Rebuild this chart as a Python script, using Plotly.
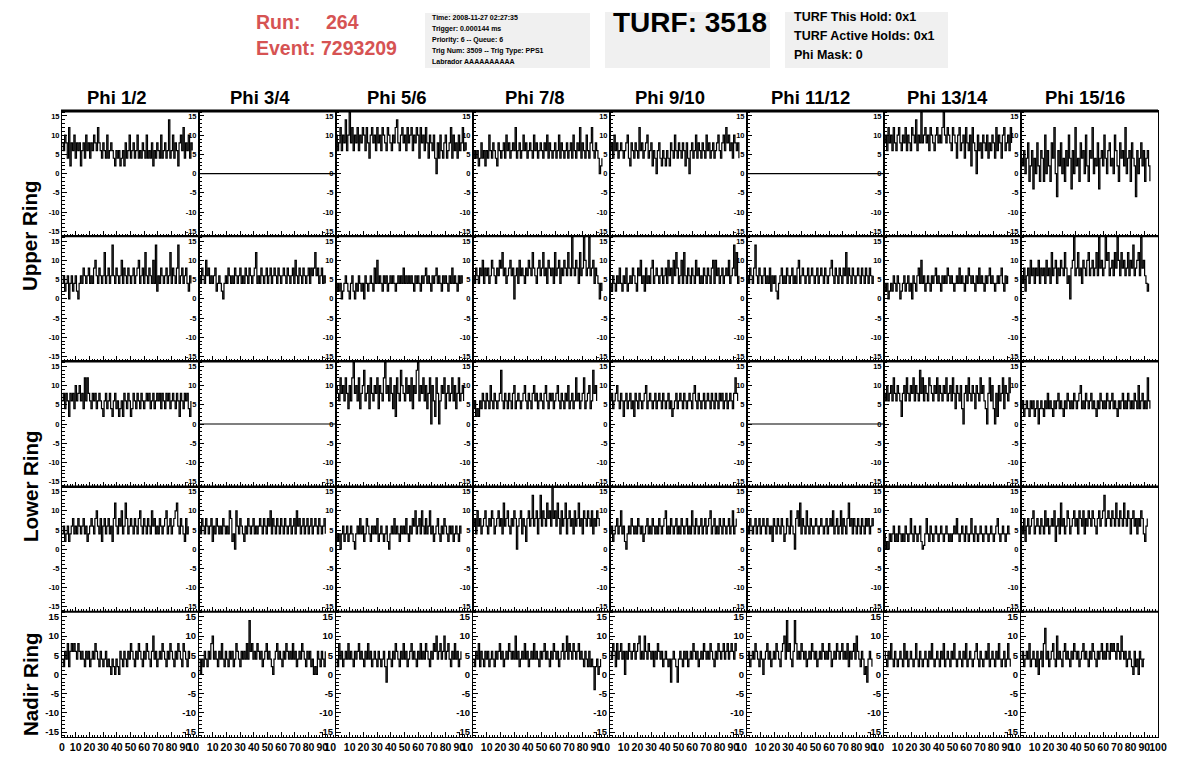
import plotly.graph_objects as go

# ---------------- data (ADC counts, sampled every DT ns) ----------------
DT = 0.96
phi_titles = ["Phi 1/2", "Phi 3/4", "Phi 5/6", "Phi 7/8", "Phi 9/10", "Phi 11/12", "Phi 13/14", "Phi 15/16"]
ring_labels = ["Upper Ring", "Lower Ring", "Nadir Ring"]
x_tick_vals = [0, 10, 20, 30, 40, 50, 60, 70, 80, 90, 100]
y_tick_vals = [-15, -10, -5, 0, 5, 10, 15]
y_tick_text = ["-15", "-10", "-5", "0", "5", "10", "15"]

# Row 1 (Upper ring, first pol)
r1c1 = [8,6,10,8,4,12,2,8,6,10,4,8,6,8,2,6,8,4,10,6,8,4,8,6,10,8,6,12,8,6,4,8,6,4,10,4,6,8,6,4,2,6,4,6,2,4,6,2,8,4,6,10,4,6,8,4,6,10,4,6,4,8,6,4,10,4,6,4,8,2,6,4,8,6,4,10,4,6,8,4,6,14,4,6,10,4,8,6,2,8,10,6,12,4,8,6,10,4,8,6]
r1c2 = [0] * 105
r1c3 = [10,6,8,12,6,10,8,14,6,10,16,8,12,6,10,8,12,6,10,8,12,10,6,12,8,4,10,12,8,10,6,12,8,10,6,12,10,8,6,12,10,8,6,10,8,12,14,8,6,10,12,8,10,6,12,8,10,12,6,10,8,12,10,4,12,8,10,6,12,8,4,10,8,6,10,4,0,8,4,10,6,4,8,10,4,6,8,12,4,10,6,8,4,10,6,8,12,6,8,6]
r1c4 = [4,6,4,6,2,4,8,4,6,2,6,4,10,6,4,8,6,4,2,8,6,4,6,8,4,10,6,8,4,6,8,6,12,4,6,8,4,6,10,6,8,4,6,8,6,4,10,6,8,4,6,8,6,4,8,6,10,4,8,6,4,6,8,4,6,10,4,8,6,4,6,8,4,6,8,4,10,6,4,8,6,12,4,8,6,4,10,6,4,8,12,6,4,8,6,4,0,2,4]
r1c5 = [6,8,4,10,6,8,4,6,8,6,4,6,8,10,4,2,8,6,4,8,6,4,12,6,8,4,6,8,10,4,6,8,2,6,4,0,6,8,4,2,6,4,2,6,4,2,8,6,4,10,6,4,8,6,4,8,6,2,8,4,0,6,8,4,6,10,4,8,6,4,8,6,4,10,6,8,4,6,8,4,6,8,10,6,4,8,10,6,12,8,10,6,8,4,10,8,6,8,4]
r1c6 = [0] * 105
r1c7 = [8,10,6,12,8,10,6,12,8,6,10,12,8,6,10,8,12,6,10,8,6,12,10,8,14,6,10,8,16,8,10,12,8,10,6,12,10,8,6,10,12,8,10,8,12,16,10,8,12,10,8,6,12,10,8,4,10,12,6,8,10,4,12,8,6,10,2,12,8,6,0,10,6,8,4,10,8,6,10,4,8,6,10,8,4,12,6,10,8,4,10,12,6,8,10,6,12,8]
r1c8 = [4,2,6,0,4,8,-2,2,6,-4,4,0,8,2,-2,6,4,-2,10,0,6,2,-2,8,4,12,0,-6,6,2,8,0,4,-2,6,2,10,4,-4,6,0,12,2,4,-2,8,4,6,0,10,2,-2,6,4,12,0,4,2,8,-4,4,6,2,10,4,0,6,8,2,4,0,10,6,2,-2,8,4,6,2,12,0,4,6,-2,8,4,2,-6,6,0,4,8,2,6,-2,4,6,2,-2]

# Row 2 (Upper ring, second pol)
r2c1 = [4,6,2,4,6,0,4,6,2,4,6,2,0,4,6,4,8,6,4,6,8,4,6,4,8,10,6,4,8,6,4,6,12,4,6,8,4,6,14,6,4,8,6,4,6,10,4,8,6,4,8,6,4,6,8,4,6,8,10,4,6,8,4,12,6,4,8,6,4,10,4,14,2,6,4,8,6,4,6,8,4,6,12,4,8,6,4,8,14,4,6,8,4,6,8,4,2,6,4]
r2c2 = [6,4,8,6,4,10,6,8,4,6,4,6,8,2,4,6,4,2,0,4,6,4,8,6,4,6,4,8,6,4,6,8,4,6,4,8,6,4,8,6,4,6,8,12,4,6,4,8,6,4,6,8,4,6,8,4,6,8,6,4,8,6,4,6,8,6,4,8,6,4,6,8,4,10,6,4,8,6,4,8,6,4,6,8,4,8,6,8,12,6,8,4,6,8,4,6,4]
r2c3 = [2,4,2,4,0,2,4,6,4,2,0,4,6,2,0,4,2,6,4,2,4,0,6,4,2,4,6,4,2,8,4,10,4,6,4,2,6,4,6,2,4,6,4,6,4,2,4,6,4,6,4,8,4,6,4,6,4,6,4,2,6,4,6,4,2,6,4,6,8,4,6,4,2,6,4,6,8,4,6,4,2,6,4,6,4,2,6,4,8,4,6,4,2,6,4,6,4]
r2c4 = [6,4,8,6,4,8,6,10,4,8,6,8,4,6,10,8,6,4,8,6,10,8,12,6,8,4,6,8,10,6,8,0,6,8,4,10,6,8,6,4,8,6,10,8,6,12,8,6,4,8,10,6,8,12,6,8,4,10,8,6,8,4,12,6,8,10,4,8,6,10,8,6,12,8,6,16,8,6,10,8,4,12,6,8,16,10,6,8,16,6,8,10,4,8,6,4,0,4,2]
r2c5 = [4,2,6,4,2,6,4,8,4,2,6,4,8,2,4,6,4,8,6,4,2,8,6,10,4,6,2,8,4,6,4,8,10,4,6,8,6,4,6,8,4,6,8,4,10,6,8,4,10,6,12,8,4,6,10,4,12,6,4,8,6,4,8,6,4,10,6,8,4,6,4,8,6,4,8,6,4,8,10,4,10,6,8,4,6,8,4,6,8,6,10,4,6,8,14,6,12,4,6]
r2c6 = [6,4,8,6,4,8,14,6,4,8,6,4,6,8,4,6,4,8,2,6,4,6,2,0,4,6,8,4,6,4,8,6,4,6,8,4,6,4,8,10,4,6,8,6,4,6,8,4,6,8,6,4,6,8,4,6,8,6,4,8,6,4,6,8,10,6,4,8,6,4,8,6,4,8,6,12,4,8,6,4,8,6,4,6,8,6,4,8,6,4,8,6,4,8,6,4,6]
r2c7 = [4,2,4,0,2,4,2,6,4,2,6,4,0,2,4,6,2,4,6,2,4,0,6,4,2,6,8,4,10,4,6,2,4,6,4,2,6,4,6,8,4,6,4,2,6,4,6,4,8,6,4,6,4,2,4,6,4,8,4,6,4,2,6,4,8,6,4,6,4,2,6,4,8,4,6,4,2,6,4,6,8,4,6,4,2,4,6,4,6,8,4,2,6,4,6]
r2c8 = [6,4,8,2,6,8,4,10,6,8,4,8,6,10,4,8,6,8,4,10,6,8,4,12,6,8,10,4,8,6,10,8,6,12,8,4,6,0,8,10,16,6,8,12,6,8,4,10,8,6,10,12,6,8,10,6,8,12,6,16,8,10,6,8,16,10,12,6,8,10,6,12,8,16,10,6,12,8,10,6,8,12,6,10,8,14,6,8,10,12,6,16,8,10,6,4,2,4]

# Row 3 (Lower ring, first pol)
r3c1 = [6,8,4,8,6,2,8,6,8,4,10,6,8,10,6,8,4,12,6,12,8,6,4,8,6,8,4,6,8,6,4,2,6,8,4,6,8,4,2,6,8,4,6,2,4,6,2,8,6,4,8,6,2,4,8,6,4,8,6,4,8,6,4,6,8,6,8,4,6,8,4,6,8,6,8,4,8,6,4,8,6,8,4,6,8,6,4,8,6,2,8,6,4,8,6,8,4,2,6]
r3c2 = [0] * 105
r3c3 = [10,8,6,12,8,10,6,12,8,4,10,6,12,16,8,10,6,12,4,8,10,14,6,8,10,4,12,8,6,10,8,12,4,10,8,6,12,16,8,10,6,12,8,4,10,2,12,8,6,14,10,8,6,12,8,10,6,12,4,10,8,14,16,6,10,8,12,6,10,4,8,12,0,10,6,2,12,8,0,6,10,8,12,4,8,10,6,8,12,6,10,4,8,12,6,8,10,6]
r3c4 = [4,6,2,4,2,6,4,8,6,4,8,6,4,10,6,4,8,6,4,6,8,14,6,4,8,6,4,8,6,4,8,10,4,6,8,6,4,6,8,10,6,4,8,6,4,8,10,6,8,4,6,8,6,4,8,10,6,4,8,6,8,4,6,8,10,6,4,8,6,4,8,6,10,4,6,8,4,6,12,6,8,4,6,8,12,4,6,8,10,4,6,14,8,10,6]
r3c5 = [6,8,4,6,8,10,6,4,8,6,2,6,8,4,6,8,4,6,2,8,6,4,8,6,4,6,8,10,4,6,8,6,4,6,8,4,6,8,6,4,8,6,4,6,8,4,6,2,4,6,8,4,6,8,6,4,8,6,4,6,8,6,4,8,10,6,4,8,6,4,6,8,4,6,8,6,4,8,6,4,8,6,4,8,6,8,4,6,8,4,6,8,6,4,8,12,8,6]
r3c6 = [0] * 105
r3c7 = [8,6,10,6,8,10,6,12,8,6,10,8,6,2,8,10,6,12,8,6,10,8,12,6,10,8,6,14,8,12,6,10,8,6,12,10,8,6,10,8,12,6,10,8,6,10,8,12,6,8,10,6,12,8,4,10,8,6,10,4,0,8,10,6,12,8,6,10,8,4,10,8,6,12,8,10,6,4,0,8,12,6,10,4,0,8,2,10,6,8,12,4,10,8,6,12,8]
r3c8 = [4,6,2,4,6,4,2,6,4,6,2,4,6,0,4,6,4,2,6,4,8,4,6,4,2,6,4,6,8,4,6,4,2,6,4,8,6,4,6,4,8,6,4,6,8,10,4,6,4,8,6,4,6,8,4,6,4,2,6,4,8,6,4,6,4,8,6,4,6,8,4,6,4,2,6,4,6,8,4,6,4,8,6,4,6,4,8,6,4,10,4,6,8,4,6,4,12,6,4]

# Row 4 (Lower ring, second pol)
r4c1 = [4,6,2,4,6,2,4,6,8,4,6,4,8,6,4,6,8,4,6,2,4,6,8,6,4,8,10,6,4,8,2,6,8,4,6,8,4,6,2,8,12,6,4,8,6,10,4,6,12,8,4,6,8,6,4,8,6,4,8,10,6,4,8,6,4,8,6,4,10,6,8,4,6,4,8,6,4,6,8,10,4,6,8,4,6,8,10,12,6,4,8,6,4,2,8,4,6]
r4c2 = [6,4,8,6,4,8,6,4,6,8,2,6,4,8,6,4,6,4,8,6,4,6,4,10,8,2,4,0,10,6,4,8,6,4,2,6,4,8,6,4,6,8,4,6,4,6,8,6,4,8,6,4,8,6,10,4,8,6,4,8,6,4,8,6,4,8,6,4,6,8,4,6,8,4,10,6,8,4,6,8,4,6,8,4,6,8,4,6,8,6,4,8,6,4,6,8,4]
r4c3 = [4,2,4,0,4,6,2,4,6,2,4,6,4,2,0,4,6,4,8,4,6,2,4,8,6,4,2,6,4,6,4,8,2,4,6,4,2,4,6,2,0,4,6,4,8,4,6,4,2,6,4,6,4,8,4,2,6,4,8,6,10,4,6,8,4,10,6,4,8,4,6,10,4,6,2,4,6,8,4,2,6,4,8,6,4,2,6,4,6,2,4,6,4,2,6,4]
r4c4 = [6,8,4,10,6,8,4,6,8,10,6,4,8,6,10,8,4,6,8,10,6,8,4,12,6,8,10,6,4,8,6,10,8,0,6,8,10,4,8,6,2,8,10,6,8,14,6,8,10,4,8,14,6,10,8,6,12,8,10,6,16,8,10,6,12,8,4,10,6,8,12,4,8,10,6,8,4,10,6,8,12,6,8,4,10,8,6,10,8,6,10,4,8,6,10,8,6]
r4c5 = [4,6,2,4,6,8,4,6,10,4,6,2,0,4,6,4,8,6,4,6,4,8,6,4,6,2,4,6,8,4,6,4,8,6,4,6,4,8,6,4,6,8,10,4,6,4,8,6,4,6,8,4,6,4,8,6,4,6,8,4,6,4,10,6,4,8,6,4,6,8,4,6,8,4,6,8,10,4,6,8,4,6,4,8,6,4,8,6,4,6,8,4,6,10,4,6,8]
r4c6 = [6,4,8,6,4,6,8,4,6,8,4,6,8,6,4,8,6,4,6,2,8,6,4,8,6,4,8,6,2,4,8,6,4,10,6,4,0,8,10,6,12,4,8,6,4,10,6,4,8,6,4,6,8,6,4,6,8,6,4,6,8,4,6,8,6,10,4,6,8,4,6,10,4,8,6,4,8,12,6,8,4,8,6,4,8,6,4,8,6,4,8,6,8,4,6,8,6]
r4c7 = [4,0,2,0,4,2,4,6,2,4,2,6,4,2,4,2,6,4,2,4,8,4,2,6,4,2,4,6,2,0,1,4,8,4,2,6,4,2,4,6,4,2,4,6,4,2,4,6,4,2,4,2,4,6,4,8,4,2,4,6,4,2,6,4,2,4,8,4,2,6,4,2,4,6,4,2,4,6,4,2,4,6,4,2,4,6,8,4,2,4,6,4,2,4,6,4,4]
r4c8 = [6,4,8,2,6,8,4,6,8,10,4,6,8,6,4,8,6,4,10,6,8,4,6,8,6,10,2,6,8,4,12,6,8,4,6,10,8,4,6,8,10,6,8,4,10,8,6,10,4,8,6,10,8,6,10,8,6,4,8,10,6,8,10,14,6,8,10,8,6,10,8,6,12,8,6,10,8,6,12,8,6,10,8,4,8,10,6,8,4,8,6,10,8,4,2,6,8]

# Row 5 (Nadir ring)
r5c1 = [4,2,6,4,8,2,6,8,6,8,6,4,8,6,4,6,4,2,6,4,6,2,4,6,4,8,6,4,2,6,4,2,4,6,2,4,2,0,4,2,0,4,2,0,6,4,2,6,4,2,6,4,8,6,4,2,6,4,8,6,4,2,6,4,8,6,4,2,6,10,4,6,2,4,6,4,8,6,4,2,6,4,8,6,4,2,6,4,8,6,4,2,8,6,4,2,6,4]
r5c2 = [4,0,4,2,6,4,2,6,4,8,10,4,6,4,2,6,4,8,4,2,6,4,2,6,4,6,2,4,8,6,4,2,6,4,6,4,8,4,14,6,8,4,6,4,8,6,4,6,2,4,6,8,4,6,4,2,0,4,6,8,4,6,4,2,6,4,8,6,4,6,4,8,4,6,2,4,6,4,8,6,4,2,6,4,6,2,4,0,2,0,6,4,2,6,4,2,6]
r5c3 = [4,2,8,4,6,2,4,6,4,8,4,6,4,2,6,4,6,8,4,6,4,2,6,4,8,4,6,2,4,6,4,2,6,4,2,4,6,2,-2,4,6,4,2,6,4,8,6,4,2,6,4,8,4,6,2,4,6,8,4,6,4,2,6,4,8,4,6,4,8,6,4,2,6,4,8,6,10,4,6,8,4,6,10,4,6,8,4,2,6,4,8,4,6,2,4,6]
r5c4 = [4,2,6,4,8,2,6,4,2,6,4,6,2,4,6,4,2,6,4,6,8,4,6,2,4,6,4,8,6,4,6,4,10,4,6,2,4,6,4,8,4,6,2,4,6,4,8,4,6,4,2,6,4,6,8,4,6,4,2,6,4,8,6,4,6,2,4,6,8,4,6,10,4,8,6,4,8,6,4,6,8,4,6,4,2,6,4,2,6,2,4,2,-4,2,4,0,2,4]
r5c5 = [6,4,8,6,2,8,4,6,8,4,6,0,6,4,8,6,4,6,8,4,6,8,10,4,6,4,10,6,4,8,6,4,6,2,6,4,8,6,4,6,2,4,6,4,2,4,-2,4,6,4,2,-2,4,6,4,2,6,4,6,2,4,6,4,8,6,4,6,2,4,6,4,8,6,4,6,4,8,6,4,2,6,4,8,6,4,6,8,4,6,8,4,6,8,6,4,8,6]
r5c6 = [4,6,2,4,6,4,8,6,4,2,6,4,0,4,6,8,4,6,2,4,6,4,8,6,4,2,6,8,10,4,14,6,8,4,2,6,14,8,4,6,4,8,6,4,6,2,4,6,4,8,6,4,6,2,4,6,4,8,6,4,6,4,8,6,2,4,6,4,8,6,4,6,8,4,6,4,8,2,6,4,6,8,4,10,6,4,2,6,4,0,2,-2,4,6,4,2]
r5c7 = [6,4,2,6,4,8,4,2,6,4,2,4,6,4,2,8,4,6,2,4,6,4,2,4,8,4,2,6,4,2,4,6,4,2,6,4,8,4,2,4,6,4,2,6,4,8,2,4,6,4,2,6,4,8,4,2,4,6,4,2,6,4,8,2,4,6,4,2,4,6,8,4,2,6,4,2,4,6,4,8,2,4,6,4,2,6,4,8,4,2,4,6,2,4,8,4,2]
r5c8 = [4,6,2,4,6,4,8,2,4,6,4,2,6,0,4,6,2,8,12,4,6,2,4,6,8,4,2,10,4,6,4,2,6,8,4,6,4,2,6,4,8,6,4,6,2,4,6,8,4,6,4,2,6,4,8,6,4,2,6,4,6,8,4,6,4,8,6,4,8,6,8,6,4,8,6,4,10,6,4,6,2,4,6,4,2,0,6,2,4,0,6,4,2,4,4]

rows = [
    [r1c1, r1c2, r1c3, r1c4, r1c5, r1c6, r1c7, r1c8],
    [r2c1, r2c2, r2c3, r2c4, r2c5, r2c6, r2c7, r2c8],
    [r3c1, r3c2, r3c3, r3c4, r3c5, r3c6, r3c7, r3c8],
    [r4c1, r4c2, r4c3, r4c4, r4c5, r4c6, r4c7, r4c8],
    [r5c1, r5c2, r5c3, r5c4, r5c5, r5c6, r5c7, r5c8],
]

# ---------------- layout geometry (pixels) ----------------
W, H = 1196, 772
LEFT, COLW = 62, 137
TOP, ROWH = 111, 125.2
FONT = "Liberation Sans, Arial, Helvetica, sans-serif"


def px(x):
    return x / W


def py(y):
    return 1 - y / H


fig = go.Figure()
layout = {}
k = 0
for r, row in enumerate(rows):
    for c, vals in enumerate(row):
        k += 1
        sfx = "" if k == 1 else str(k)
        xs = [i * DT for i in range(len(vals))]
        fig.add_trace(go.Scatter(
            x=xs, y=vals, mode="lines", line=dict(color="black", width=1.2, shape="hv"),
            xaxis="x" + sfx, yaxis="y" + sfx, showlegend=False, hoverinfo="skip"))
        x0 = LEFT + COLW * c
        y0 = TOP + ROWH * r
        bottom = (r == len(rows) - 1)
        first = "0" if c == 0 else ""
        last = "100" if c == 7 else "10\u2007\u2007"
        xtext = [first] + [str(v) for v in x_tick_vals[1:-1]] + [last]
        layout["xaxis" + sfx] = dict(
            domain=[px(x0), px(x0 + COLW)], anchor="y" + sfx, range=[0, 100],
            showline=True, linecolor="black", linewidth=1, mirror=True,
            ticks="inside", ticklen=5, tickwidth=1, tickcolor="black",
            tickvals=x_tick_vals, ticktext=xtext, tickangle=0, automargin=False,
            minor=dict(ticks="inside", ticklen=2.5, dtick=2, tickcolor="black"),
            showgrid=False, zeroline=False, showticklabels=bottom,
            tickfont=dict(family=FONT, size=10.5, color="black", weight="bold"),
            fixedrange=True)
        layout["yaxis" + sfx] = dict(
            domain=[py(y0 + ROWH), py(y0)], anchor="x" + sfx, range=[-16.3, 16.3],
            showline=True, linecolor="black", linewidth=1, mirror=True,
            ticks="inside", ticklen=5, tickwidth=1, tickcolor="black",
            tickvals=y_tick_vals, ticktext=y_tick_text, automargin=False,
            minor=dict(ticks="inside", ticklen=2.5, dtick=1, tickcolor="black"),
            showgrid=False, zeroline=False,
            tickfont=dict(family=FONT, size=9.5 if bottom else 7.5, color="black", weight="bold"),
            fixedrange=True)

shapes = []
# thick row separators
for r in range(len(rows)):
    y = TOP + ROWH * r
    shapes.append(dict(type="line", xref="paper", yref="paper", x0=px(LEFT - 1), x1=px(LEFT + COLW * 8),
                       y0=py(y), y1=py(y), line=dict(color="black", width=3 if r == 0 else 2)))
# header boxes
for (bx0, by0, bx1, by1) in [(425, 13, 590, 68), (605, 12, 770, 68), (785, 12, 948, 68)]:
    shapes.append(dict(type="rect", xref="paper", yref="paper", x0=px(bx0), x1=px(bx1),
                       y0=py(by1), y1=py(by0), fillcolor="#f0f0f0", line=dict(width=0), layer="below"))

ann = []


def text(x, y, s, size, color="black", xanchor="left", angle=0):
    ann.append(dict(x=px(x), y=py(y), xref="paper", yref="paper", text=s, showarrow=False,
                    xanchor=xanchor, yanchor="middle", textangle=angle,
                    font=dict(family=FONT, size=size, color=color, weight="bold")))


title_x = [117, 260, 397, 535, 670, 810, 947, 1085]
for t, xx in zip(phi_titles, title_x):
    text(xx, 97, t, 18.5, xanchor="center")

text(30, 236, ring_labels[0], 20.5, xanchor="center", angle=-90)
text(30, 486, ring_labels[1], 20.5, xanchor="center", angle=-90)
text(30, 684, ring_labels[2], 20.5, xanchor="center", angle=-90)

RED = "#d65353"
text(254, 22, "Run:", 19.5, RED)
text(324, 22, "264", 19.5, RED)
text(254, 48, "Event: 7293209", 19.5, RED)

info_lines = ["Time: 2008-11-27 02:27:35", "Trigger: 0.000144 ms", "Priority: 6 -- Queue: 6",
              "Trig Num: 3509 -- Trig Type: PPS1", "Labrador AAAAAAAAAA"]
for i, s in enumerate(info_lines):
    text(430, 18 + i * 11, s, 7)

text(611, 23, "TURF: 3518", 28)
turf_lines = ["TURF This Hold: 0x1", "TURF Active Holds: 0x1", "Phi Mask: 0"]
for i, s in enumerate(turf_lines):
    text(792, 17 + i * 19, s, 12.5)

fig.update_layout(width=W, height=H, margin=dict(l=0, r=0, t=0, b=0, autoexpand=False),
                  paper_bgcolor="white", plot_bgcolor="white",
                  shapes=shapes, annotations=ann, showlegend=False, **layout)
fig.write_html("out.html", config={"displayModeBar": False},
               post_script="document.body.style.margin='0px';document.body.style.overflow='hidden';")
